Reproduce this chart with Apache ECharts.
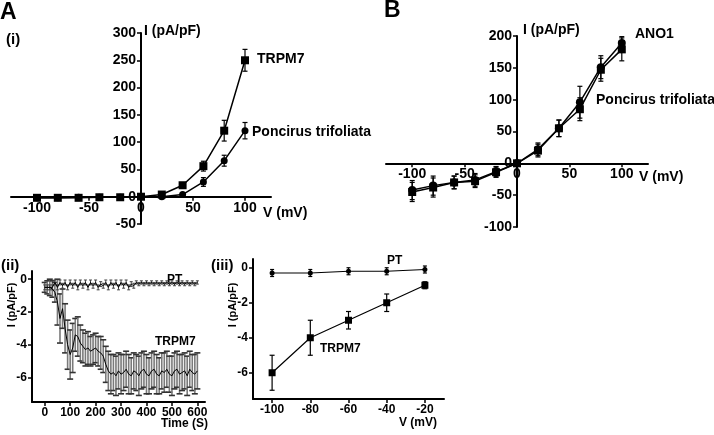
<!DOCTYPE html>
<html><head><meta charset="utf-8">
<script src="https://cdn.jsdelivr.net/npm/echarts@6/dist/echarts.min.js"></script>
<style>html,body{margin:0;padding:0;background:#fff}#c{width:714px;height:435px}</style>
</head><body><div id="c"></div>
<script>
// ---- Panel A(i): I-V curves ----
const vA = [-100, -80, -60, -40, -20, 0, 20, 40, 60, 80, 100];
const trpm7A = [-2, -2, -2, -1, -1, 0, 4, 21, 56, 121, 250];
const trpm7AErr = [2, 2, 2, 2, 2, 1, 2, 5, 9, 19, 20];
const ptA = [-2, -2, -1, -1, -1, 0, 0, 4, 27, 66, 121];
const ptAErr = [1, 1, 1, 1, 1, 1, 1, 3, 8, 10, 15];
const xTicksA = [-100, -50, 0, 50, 100];
const yTicksA = [-50, 0, 50, 100, 150, 200, 250, 300];

// ---- Panel B: ANO1 I-V ----
const vB = [-100, -80, -60, -40, -20, 0, 20, 40, 60, 80, 100];
const ano1B = [-45, -38, -30, -28, -14, 0, 20, 55, 85, 147, 179];
const ano1BErr = [15, 15, 10, 10, 8, 2, 10, 13, 18, 18, 18];
const ptB = [-42, -35, -30, -26, -13, 0, 22, 55, 96, 151, 189];
const ptBErr = [15, 15, 10, 10, 8, 2, 10, 13, 25, 18, 10];
const xTicksB = [-100, -50, 0, 50, 100];
const yTicksB = [-100, -50, 0, 50, 100, 150, 200];

// ---- Panel A(ii): time course ----
const timeC = [0, 10, 20, 30, 40, 50, 60, 70, 80, 90, 100, 110, 120, 130, 140, 150, 160, 170, 180, 190, 200,
  210, 220, 230, 240, 250, 260, 270, 280, 290, 300, 310, 320, 330, 340, 350, 360, 370, 380, 390, 400,
  410, 420, 430, 440, 450, 460, 470, 480, 490, 500, 510, 520, 530, 540, 550, 560, 570, 580, 590, 600];
const trpm7C = [-0.5, -0.5, -0.5, -0.6, -0.8, -1.4, -2.4, -1.8, -3.0, -4.0, -4.6, -4.2, -3.4, -3.5, -3.9, -4.1, -4.3, -4.2, -4.4, -4.3, -4.2,
  -4.4, -4.5, -4.7, -5.2, -5.6, -5.8, -5.7, -5.9, -5.6, -5.8, -5.7, -5.5, -5.8, -5.9, -5.6, -5.7, -5.9, -5.6, -5.5, -5.8,
  -5.9, -5.6, -5.5, -5.8, -5.9, -5.6, -5.7, -5.5, -5.8, -5.9, -5.6, -5.5, -5.8, -5.7, -5.6, -5.9, -5.5, -5.7, -5.8, -5.6];
const trpm7CErr = [0.3, 0.4, 0.5, 0.5, 0.6, 1.4, 1.5, 1.2, 1.5, 1.5, 1.5, 1.5, 1.0, 1.2, 1.1, 1.0, 1.0, 1.0, 0.9, 0.9, 0.9,
  0.9, 1.0, 1.0, 1.1, 1.2, 1.2, 1.1, 1.2, 1.1, 1.2, 1.1, 1.1, 1.2, 1.1, 1.1, 1.1, 1.2, 1.1, 1.1, 1.2,
  1.1, 1.1, 1.1, 1.2, 1.1, 1.1, 1.2, 1.1, 1.1, 1.2, 1.1, 1.1, 1.2, 1.1, 1.1, 1.2, 1.1, 1.1, 1.2, 1.1];
const ptC = [-0.5, -0.5, -0.5, -0.5, -0.2, -0.5, -0.2, -0.4, -0.2, -0.5, -0.2, -0.4, -0.2, -0.5, -0.2, -0.4, -0.2, -0.5, -0.2, -0.4, -0.2,
  -0.5, -0.3, -0.4, -0.2, -0.5, -0.2, -0.4, -0.2, -0.5, -0.2, -0.4, -0.2, -0.5, -0.3, -0.4, -0.2, -0.3, -0.2, -0.3, -0.2,
  -0.3, -0.2, -0.3, -0.2, -0.3, -0.2, -0.3, -0.2, -0.3, -0.2, -0.3, -0.2, -0.3, -0.2, -0.3, -0.2, -0.3, -0.2, -0.3, -0.2];
const ptCErr = [0.15, 0.15, 0.15, 0.15, 0.15, 0.15, 0.15, 0.15, 0.15, 0.15, 0.15, 0.15, 0.15, 0.15, 0.15, 0.15, 0.15, 0.15, 0.15, 0.15, 0.15,
  0.15, 0.15, 0.15, 0.15, 0.15, 0.15, 0.15, 0.15, 0.15, 0.15, 0.15, 0.15, 0.15, 0.15, 0.15, 0.1, 0.1, 0.1, 0.1, 0.1,
  0.1, 0.1, 0.1, 0.1, 0.1, 0.1, 0.1, 0.1, 0.1, 0.1, 0.1, 0.1, 0.1, 0.1, 0.1, 0.1, 0.1, 0.1, 0.1, 0.1];
const xTicksC = [0, 100, 200, 300, 400, 500, 600];
const yTicksC = [-6, -4, -2, 0];

// ---- Panel A(iii): steady-state inward current ----
const vD = [-100, -80, -60, -40, -20];
const trpm7D = [-6, -4, -3, -2, -1];
const trpm7DErr = [1, 1, 0.5, 0.5, 0.2];
const ptD = [-0.3, -0.3, -0.2, -0.2, -0.1];
const ptDErr = [0.2, 0.2, 0.2, 0.2, 0.2];
const xTicksD = [-100, -80, -60, -40, -20];
const yTicksD = [-6, -4, -2, 0];

const FONT = '"Liberation Sans", Arial, sans-serif';

const grids = [
  { left: 11, top: 33, width: 260, height: 191 },
  { left: 386, top: 36, width: 262, height: 191 },
  { left: 32, top: 271, width: 173, height: 131 },
  { left: 253, top: 259, width: 191, height: 140 }
];
const xr = [[-125, 125], [-125, 125], [-50, 630], [-110, -10]];
const yr = [[-50, 300], [-100, 200], [-7.5, 0.5], [-7.5, 0.5]];

function errData(xs, ys, es) { return xs.map((x, i) => [x, ys[i] - es[i], ys[i] + es[i]]); }
function pairs(xs, ys) { return xs.map((x, i) => [x, ys[i]]); }
function errRender(capW, barColor, capColor, lw) {
  return function (params, api) {
    const x = api.value(0), lo = api.value(1), hi = api.value(2);
    const p1 = api.coord([x, hi]), p2 = api.coord([x, lo]);
    return { type: 'group', children: [
      { type: 'line', shape: { x1: p1[0], y1: p1[1], x2: p2[0], y2: p2[1] }, style: { stroke: barColor, lineWidth: lw } },
      { type: 'line', shape: { x1: p1[0] - capW / 2, y1: p1[1], x2: p1[0] + capW / 2, y2: p1[1] }, style: { stroke: capColor, lineWidth: lw } },
      { type: 'line', shape: { x1: p2[0] - capW / 2, y1: p2[1], x2: p2[0] + capW / 2, y2: p2[1] }, style: { stroke: capColor, lineWidth: lw } }
    ] };
  };
}
function errSeries(idx, data, capW, barColor, capColor, lw) {
  return { type: 'custom', xAxisIndex: idx, yAxisIndex: idx, data: data, encode: { x: 0, y: [1, 2] },
    renderItem: errRender(capW, barColor, capColor, lw), silent: true, z: 3 };
}
function lineSeries(idx, data, symbol, size, lw) {
  return { type: 'line', xAxisIndex: idx, yAxisIndex: idx, data: data, symbol: symbol, symbolSize: size,
    itemStyle: { color: '#000' }, lineStyle: { color: '#000', width: lw }, silent: true, animation: false, z: 4 };
}
// crossing axes: shift the axis to the other axis' zero
function zeroOffsetX(idx) { const r = yr[idx]; return -grids[idx].height * (0 - r[0]) / (r[1] - r[0]); }
function zeroOffsetY(idx) { const r = xr[idx]; return -grids[idx].width * (0 - r[0]) / (r[1] - r[0]); }
function xAx(idx, ticks, fs, cross, margin) {
  return { type: 'value', gridIndex: idx, min: xr[idx][0], max: xr[idx][1], position: 'bottom',
    offset: cross ? zeroOffsetX(idx) : 0,
    axisLine: { onZero: false, lineStyle: { color: '#000', width: 2 } },
    axisTick: { customValues: ticks, length: 4, lineStyle: { color: '#000', width: 1.5 } },
    axisLabel: { customValues: ticks, fontSize: fs, fontWeight: 'bold', color: '#000', fontFamily: FONT, margin: margin },
    splitLine: { show: false } };
}
function yAx(idx, ticks, fs, cross, margin) {
  return { type: 'value', gridIndex: idx, min: yr[idx][0], max: yr[idx][1], position: 'left',
    offset: cross ? zeroOffsetY(idx) : 0,
    axisLine: { show: true, onZero: false, lineStyle: { color: '#000', width: 2 } },
    axisTick: { show: true, customValues: ticks, length: 4, lineStyle: { color: '#000', width: 1.5 } },
    axisLabel: { customValues: ticks, fontSize: fs, fontWeight: 'bold', color: '#000', fontFamily: FONT, margin: margin },
    splitLine: { show: false } };
}
function txt(x, y, s, fs, align, rot) {
  const o = { type: 'text', x: x, y: y, silent: true,
    style: { text: s, fontSize: fs, fontWeight: 'bold', fontFamily: FONT, fill: '#000', align: align || 'left', verticalAlign: 'middle' } };
  if (rot) { o.rotation = rot; }
  return o;
}

const chart = echarts.init(document.getElementById('c'), null, { renderer: 'canvas' });
chart.setOption({
  animation: false,
  backgroundColor: '#fff',
  grid: grids.map(g => Object.assign({ outerBoundsMode: 'none' }, g)),
  xAxis: [
    xAx(0, xTicksA, 14, true, 4),
    xAx(1, xTicksB, 14, true, 4),
    xAx(2, xTicksC, 12, false, 5),
    xAx(3, xTicksD, 12, false, 5)
  ],
  yAxis: [
    yAx(0, yTicksA, 14, true, 5),
    yAx(1, yTicksB, 14, true, 5),
    yAx(2, yTicksC, 12, false, 5),
    yAx(3, yTicksD, 12, false, 5)
  ],
  series: [
    errSeries(0, errData(vA, trpm7A, trpm7AErr), 5, '#000', '#000', 1.2),
    errSeries(0, errData(vA, ptA, ptAErr), 5, '#000', '#000', 1.2),
    lineSeries(0, pairs(vA, trpm7A), 'rect', 8, 1.5),
    lineSeries(0, pairs(vA, ptA), 'circle', 7, 1.5),

    errSeries(1, errData(vB, ano1B, ano1BErr), 5, '#000', '#000', 1.2),
    errSeries(1, errData(vB, ptB, ptBErr), 5, '#000', '#000', 1.2),
    lineSeries(1, pairs(vB, ano1B), 'rect', 8, 1.5),
    lineSeries(1, pairs(vB, ptB), 'circle', 8, 1.5),

    errSeries(2, errData(timeC, trpm7C, trpm7CErr), 6, '#7a7a7a', '#333', 1.6),
    errSeries(2, errData(timeC, ptC, ptCErr), 3, '#444', '#444', 1),
    lineSeries(2, pairs(timeC, trpm7C), 'none', 2, 1),
    lineSeries(2, pairs(timeC, ptC), 'none', 2, 1),

    errSeries(3, errData(vD, trpm7D, trpm7DErr), 5, '#000', '#000', 1.2),
    errSeries(3, errData(vD, ptD, ptDErr), 4, '#000', '#000', 1.2),
    lineSeries(3, pairs(vD, trpm7D), 'rect', 7, 1.2),
    lineSeries(3, pairs(vD, ptD), 'circle', 5, 1.2)
  ],
  graphic: [
    txt(0, 13, 'A', 23),
    txt(6, 40, '(i)', 15),
    txt(384, 11, 'B', 23),
    txt(144, 31, 'I (pA/pF)', 14),
    txt(257, 59, 'TRPM7', 14),
    txt(252, 132, 'Poncirus trifoliata', 14),
    txt(263, 213, 'V (mV)', 14),
    txt(523, 30, 'I (pA/pF)', 14),
    txt(635, 34, 'ANO1', 14),
    txt(596, 100, 'Poncirus trifoliata', 14),
    txt(639, 177, 'V (mV)', 14),
    txt(1, 266, '(ii)', 15),
    txt(211, 266, '(iii)', 15),
    txt(12, 305, 'I (pA/pF)', 11, 'center', Math.PI / 2),
    txt(233, 305, 'I (pA/pF)', 11, 'center', Math.PI / 2),
    txt(167, 280, 'PT', 12),
    txt(155, 342, 'TRPM7', 12),
    txt(208, 424, 'Time (S)', 12, 'right'),
    txt(387, 261, 'PT', 12),
    txt(320, 349, 'TRPM7', 12),
    txt(437, 423, 'V (mV)', 12, 'right')
  ]
});
</script></body></html>
